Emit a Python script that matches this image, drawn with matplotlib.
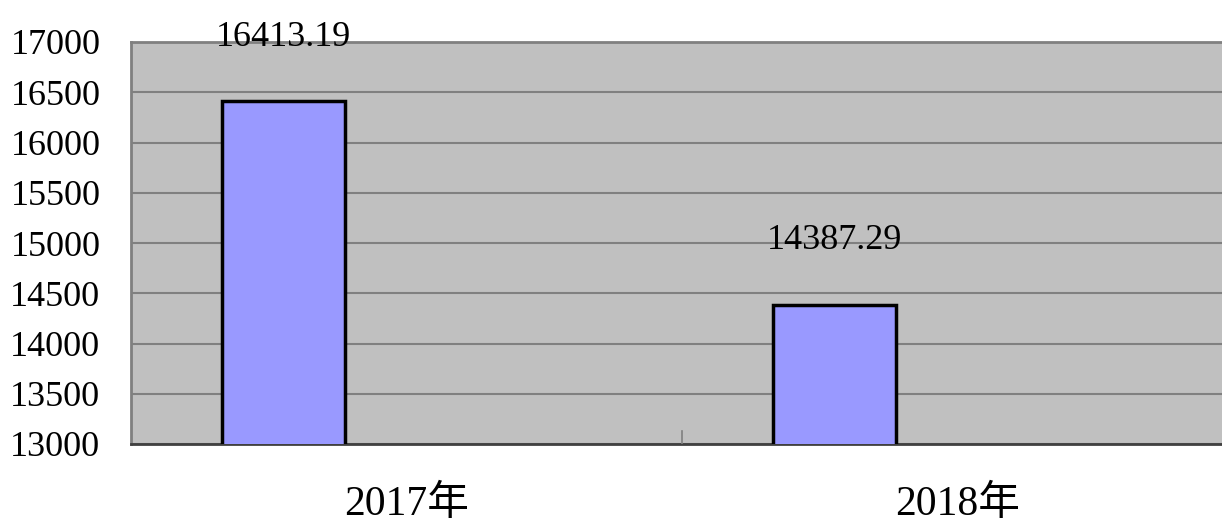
import matplotlib
matplotlib.use("Agg")
import matplotlib.pyplot as plt
import numpy as np

years = ["2017年", "2018年"]
values = [16413.19, 14387.29]
value_labels = ["16413.19", "14387.29"]
yticks = list(range(13000, 17001, 500))

plt.rcParams['font.family'] = ['Liberation Serif', 'Noto Sans CJK SC', 'DejaVu Sans']

fig = plt.figure(figsize=(12.22, 5.28), dpi=100)
ax = fig.add_axes([131 / 1222, 84 / 528, 1102 / 1222, 402 / 528])
ax.set_facecolor("#C0C0C0")

x = np.arange(len(years))
off, w = -0.223, 0.223
ax.bar(x + off, values, width=w, bottom=0, color="#9999FF",
       edgecolor="black", linewidth=2.5, zorder=3)
for xi, v, lab in zip(x, values, value_labels):
    ax.annotate(lab, (xi + off, v), xytext=(0, 46), textcoords="offset points",
                ha="center", va="center", fontsize=26)

ax.set_xlim(-0.5, 1.5)
ax.set_ylim(13000, 17000)
ax.set_yticks(yticks)
ax.set_yticklabels([str(t) for t in yticks], fontsize=26)
ax.yaxis.grid(True, color="#808080", linewidth=1.5, zorder=0)
ax.set_axisbelow(True)
ax.set_xticks(x)
ax.set_xticklabels(years, fontsize=30)
ax.tick_params(axis="x", length=0, pad=30)
ax.tick_params(axis="y", length=0, pad=22)
# category separator tick
ax.plot([0.5, 0.5], [13000, 13130], color="#808080", linewidth=1.2, zorder=4)

for s in ["top", "left"]:
    ax.spines[s].set_color("#808080")
    ax.spines[s].set_linewidth(2)
ax.spines["right"].set_visible(False)
ax.spines["bottom"].set_color("#404040")
ax.spines["bottom"].set_linewidth(2)

fig.savefig("out.png", dpi=100)
